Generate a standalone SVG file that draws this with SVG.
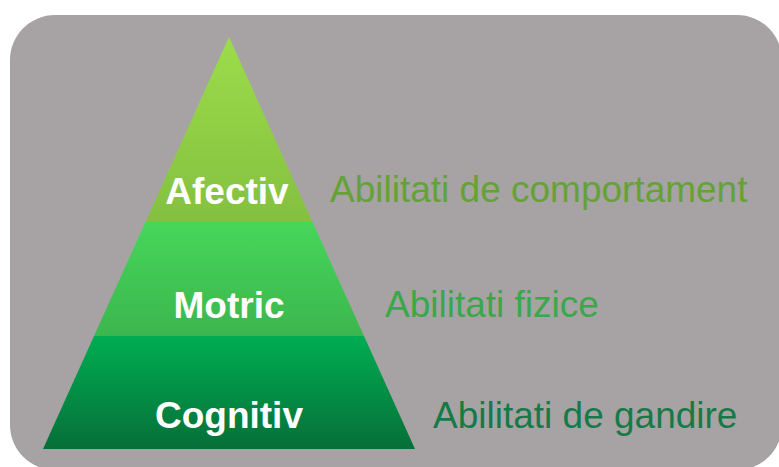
<svg xmlns="http://www.w3.org/2000/svg" width="779" height="467" viewBox="0 0 779 467">
<defs>
<linearGradient id="gA" x1="0" y1="0" x2="0" y2="1"><stop offset="0" stop-color="#9cdc4a"/><stop offset="1" stop-color="#84c040"/></linearGradient>
<linearGradient id="gM" x1="0" y1="0" x2="0" y2="1"><stop offset="0" stop-color="#46d65a"/><stop offset="1" stop-color="#3cb64e"/></linearGradient>
<linearGradient id="gC" x1="0" y1="0" x2="0" y2="1"><stop offset="0" stop-color="#00ad52"/><stop offset="1" stop-color="#066f38"/></linearGradient>
<style>
.lvl{font-family:"Liberation Sans",Arial,sans-serif;font-weight:bold;font-size:37px;fill:#ffffff;text-anchor:middle}
.desc{font-family:"Liberation Sans",Arial,sans-serif;font-size:37px}
</style>
</defs>
<rect width="779" height="467" fill="#ffffff"/>
<rect x="10" y="15" width="772" height="455" rx="45" ry="45" fill="#a7a3a4"/>
<g id="afectiv">
<polygon points="229,37 312.5,222 145.5,222" fill="url(#gA)"/>
<text class="lvl" x="227" y="204">Afectiv</text>
<text class="desc" x="330" y="202" fill="#64a236">Abilitati de comportament</text>
</g>
<g id="motric">
<polygon points="145.5,222 312.5,222 364,336 94,336" fill="url(#gM)"/>
<text class="lvl" x="229" y="318">Motric</text>
<text class="desc" x="385" y="317" fill="#3aa84a">Abilitati fizice</text>
</g>
<g id="cognitiv">
<polygon points="94,336 364,336 415,449 43,449" fill="url(#gC)"/>
<text class="lvl" x="229" y="428">Cognitiv</text>
<text class="desc" x="433" y="428" fill="#167a48">Abilitati de gandire</text>
</g>
<g id="connectors"/>
</svg>
